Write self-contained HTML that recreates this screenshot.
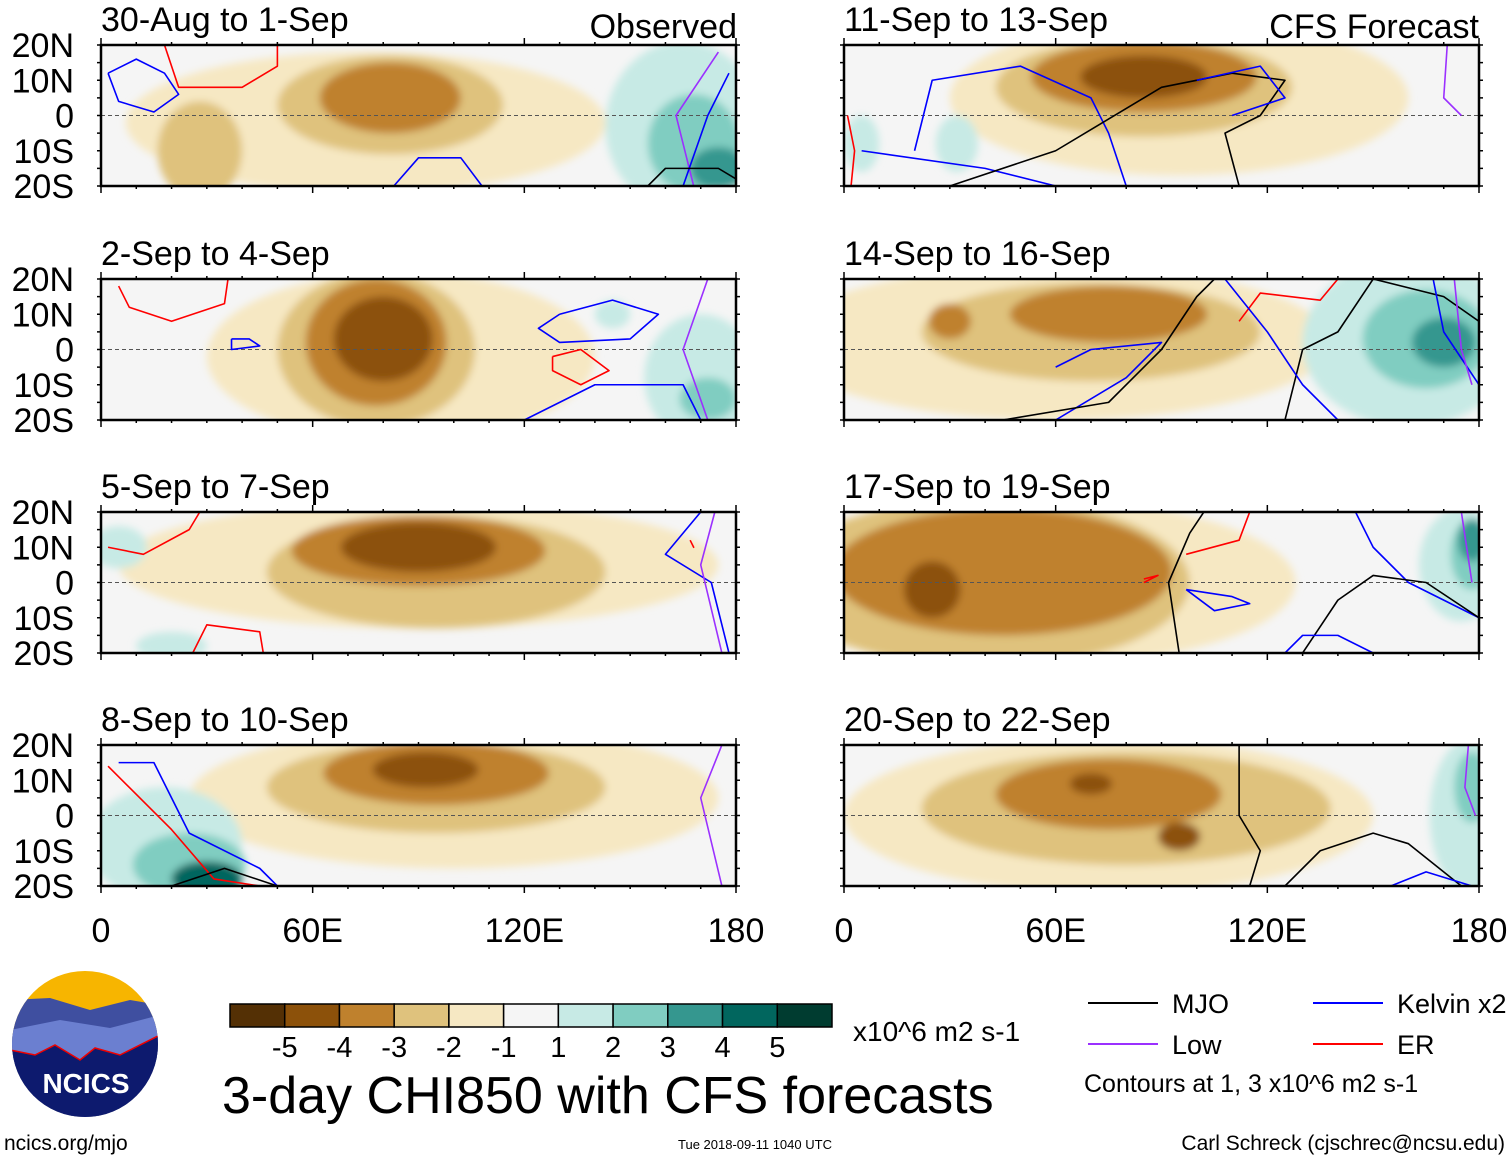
<!DOCTYPE html>
<html><head><meta charset="utf-8">
<style>
body{margin:0;background:#fff;}
svg{display:block;font-family:"Liberation Sans",sans-serif;}
</style></head>
<body>
<svg id="chart" width="1510" height="1159" viewBox="0 0 1510 1159">
<defs>
<filter id="blur" x="-20%" y="-20%" width="140%" height="140%"><feGaussianBlur stdDeviation="4"/></filter>
</defs>
<g id="panels"></g>
<g id="legend"></g>
</svg>
<script>
// ---------- data ----------
const panelTitles = ["30-Aug to 1-Sep","2-Sep to 4-Sep","5-Sep to 7-Sep","8-Sep to 10-Sep","11-Sep to 13-Sep","14-Sep to 16-Sep","17-Sep to 19-Sep","20-Sep to 22-Sep"];
const latTicks = [20,10,0,-10,-20];
const latLabels = ["20N","10N","0","10S","20S"];
const lonTicks = [0,60,120,180];
const lonLabels = ["0","60E","120E","180"];
const levels = [-5,-4,-3,-2,-1,1,2,3,4,5];
const levelColors = ["#543005","#8c510a","#bf812d","#dfc27d","#f6e8c3","#f5f5f5","#c7eae5","#80cdc1","#35978f","#01665e","#003c30"];
// blobs: [lon, lat, rxDeg, ryDeg, level]
const blobs0 = [[75,-2,68,20,-1],[28,-10,12,14,-2],[82,3,32,14,-2],[82,5,20,10,-3],[165,-3,22,24,1],[168,-8,13,14,2],[175,-15,8,6,3]];
const blobs1 = [[85,-2,55,24,-1],[78,0,28,22,-2],[78,2,20,18,-3],[80,3,14,12,-4],[170,-8,16,18,1],[172,-14,8,6,2],[145,10,5,4,1]];
const blobs2 = [[90,5,85,18,-1],[95,3,48,16,-2],[90,9,36,10,-3],[90,10,22,7,-4],[5,10,8,6,1],[20,-18,10,4,1]];
const blobs3 = [[100,5,75,20,-1],[95,8,48,13,-2],[95,12,32,9,-3],[92,13,15,5,-4],[18,-8,22,16,1],[25,-14,16,9,2],[30,-18,10,5,4]];
const blobs4 = [[95,5,65,22,-1],[85,8,42,14,-2],[85,11,32,10,-3],[85,11,18,6,-4],[32,-8,6,8,1],[5,-8,5,8,1]];
const blobs5 = [[60,2,78,22,-1],[70,5,48,14,-2],[75,10,28,8,-3],[30,8,6,5,-3],[160,2,30,24,1],[165,3,18,14,2],[170,2,9,7,3]];
const blobs6 = [[50,0,78,24,-1],[40,0,58,24,-2],[45,3,48,18,-3],[25,-2,8,8,-4],[175,5,12,16,1],[178,8,6,10,2],[178,12,4,6,3]];
const blobs7 = [[75,0,75,22,-1],[80,2,58,16,-2],[75,6,32,10,-3],[70,9,6,3,-4],[95,-6,6,4,-4],[178,0,12,22,1],[178,8,5,10,2]];
const blobSets = [blobs0,blobs1,blobs2,blobs3,blobs4,blobs5,blobs6,blobs7];
// contours: [color, [lon,lat,...]]
const contours0 = [["#0000ff",[2,12,10,16,18,12,22,6,15,1,5,4,2,12]],["#ff0000",[18,20,22,8,40,8,50,14,50,20]],["#0000ff",[83,-20,90,-12,102,-12,108,-20]],["#9b30ff",[168,-20,163,0,175,18]],["#0000ff",[178,12,172,0,165,-20]],["#000000",[155,-20,160,-15,175,-15,180,-18]]];
const contours1 = [["#ff0000",[5,18,8,12,20,8,35,13,36,20]],["#0000ff",[37,3,42,3,45,1,37,0,37,3]],["#0000ff",[130,10,145,14,158,10,150,3,130,2,124,6,130,10]],["#ff0000",[128,-2,136,0,144,-6,136,-10,128,-6,128,-2]],["#0000ff",[120,-20,140,-10,165,-10,170,-20]],["#9b30ff",[172,20,165,0,172,-20]]];
const contours2 = [["#ff0000",[2,10,12,8,25,15,28,20]],["#ff0000",[26,-20,30,-12,45,-14,46,-20]],["#0000ff",[170,20,160,8,173,0,178,-20]],["#9b30ff",[174,20,170,5,176,-20]],["#ff0000",[167,12,168,10,167,12]]];
const contours3 = [["#ff0000",[2,14,8,8,20,-4,32,-18,45,-20]],["#0000ff",[5,15,15,15,25,-5,45,-15,50,-20]],["#000000",[20,-20,35,-15,50,-20]],["#9b30ff",[176,20,170,5,176,-20]]];
const contours4 = [["#0000ff",[20,-10,25,10,50,14,70,5,75,-5,80,-20]],["#0000ff",[5,-10,40,-15,60,-20]],["#000000",[30,-20,60,-10,90,8,110,12,125,10,118,0,108,-5,112,-20]],["#0000ff",[100,10,118,14,125,5,110,0]],["#ff0000",[2,-20,3,-10,1,0]],["#9b30ff",[171,20,170,5,175,0]]];
const contours5 = [["#0000ff",[60,-20,80,-8,90,2,70,0,60,-5]],["#000000",[45,-20,75,-15,90,0,100,15,105,20]],["#ff0000",[112,8,118,16,135,14,140,20]],["#000000",[125,-20,130,0,140,5,150,20,170,15,180,8]],["#0000ff",[108,20,120,5,130,-10,140,-20]],["#0000ff",[167,20,170,5,180,-10]],["#9b30ff",[173,20,175,0,178,-10]]];
const contours6 = [["#000000",[95,-20,92,0,98,14,102,20]],["#ff0000",[97,8,112,12,115,20]],["#0000ff",[97,-2,110,-4,115,-6,105,-8,97,-2]],["#ff0000",[85,1,89,2,85,0]],["#0000ff",[145,20,150,10,160,0,170,-5,180,-10]],["#000000",[130,-20,140,-5,150,2,165,0,180,-10]],["#0000ff",[125,-20,130,-15,140,-15,150,-20]],["#9b30ff",[175,20,178,0]]];
const contours7 = [["#000000",[112,20,112,0,118,-10,115,-20]],["#000000",[125,-20,135,-10,150,-5,160,-8,175,-20]],["#0000ff",[155,-20,165,-16,178,-20]],["#9b30ff",[177,20,176,8,179,0]]];
const contourSets = [contours0,contours1,contours2,contours3,contours4,contours5,contours6,contours7];

// ---------- layout ----------
const NS="http://www.w3.org/2000/svg";
function mk(tag,attrs,parent){const e=document.createElementNS(NS,tag);for(const k in attrs)e.setAttribute(k,attrs[k]);if(parent)parent.appendChild(e);return e;}
const colX=[101,844], panelW=635, rowY=[45,279,512,745], panelH=141;
const root=document.getElementById('panels');
function colorFor(l){const i=levels.indexOf(l);return l<0?levelColors[i]:levelColors[i+1];}

for(let p=0;p<8;p++){
  const x0=colX[p<4?0:1], y0=rowY[p%4];
  const xs=lon=>x0+lon/180*panelW;
  const ys=lat=>y0+(20-lat)/40*panelH;
  const g=mk('g',{},root);
  
  
  const cid='clip'+p;
  const cp=mk('clipPath',{id:cid},g);mk('rect',{x:x0,y:y0,width:panelW,height:panelH},cp);
  const bg=mk('rect',{x:x0,y:y0,width:panelW,height:panelH,fill:'#f5f5f5'},g);
  
  
  const fg=mk('g',{'clip-path':'url(#'+cid+')'},g);
  const bl=mk('g',{filter:'url(#blur)'},fg);
  blobSets[p].forEach(b=>{
    const e=mk('ellipse',{cx:xs(b[0]),cy:ys(b[1]),rx:b[2]/180*panelW,ry:b[3]/40*panelH,fill:colorFor(b[4])},bl);
    
    
  });
  mk('line',{x1:x0,x2:x0+panelW,y1:ys(0),y2:ys(0),stroke:'#555','stroke-dasharray':'4,3','stroke-width':1},fg);
  contourSets[p].forEach(c=>{
    const pts=[];for(let i=0;i<c[1].length;i+=2)pts.push(xs(c[1][i])+','+ys(c[1][i+1]));
    const pl=mk('polyline',{points:pts.join(' '),fill:'none',stroke:c[0],'stroke-width':1.6,'stroke-linejoin':'round'},fg);
    
    
  });
  mk('rect',{x:x0,y:y0,width:panelW,height:panelH,fill:'none',stroke:'#000','stroke-width':2.5},g);
  for(let lon=0;lon<=180;lon+=10){const L=lon%60==0?7:3;
    mk('line',{x1:xs(lon),x2:xs(lon),y1:y0,y2:y0-L,stroke:'#000','stroke-width':1.5},g);
    mk('line',{x1:xs(lon),x2:xs(lon),y1:y0+panelH,y2:y0+panelH+L,stroke:'#000','stroke-width':1.5},g);}
  for(let lat=-20;lat<=20;lat+=5){
    mk('line',{x1:x0,x2:x0-4,y1:ys(lat),y2:ys(lat),stroke:'#000','stroke-width':1.5},g);
    mk('line',{x1:x0+panelW,x2:x0+panelW+4,y1:ys(lat),y2:ys(lat),stroke:'#000','stroke-width':1.5},g);}
  const t=mk('text',{x:x0,y:y0-14,'font-size':34},g);t.textContent=panelTitles[p];
  
  
  if(p<4){latTicks.forEach((lat,i)=>{const tt=mk('text',{x:74,y:ys(lat)+12,'font-size':34,'text-anchor':'end'},g);tt.textContent=latLabels[i];
    
    });}
  if(p%4==3){lonTicks.forEach((lon,i)=>{const tt=mk('text',{x:xs(lon),y:942,'font-size':34,'text-anchor':'middle'},g);tt.textContent=lonLabels[i];
    
    });}
}
function txt(s,a,par,name){const t=mk('text',a,par);t.textContent=s;return t;}
txt('Observed',{x:737,y:38,'font-size':34,'text-anchor':'end'},root,'observed-label');
txt('CFS Forecast',{x:1479,y:38,'font-size':34,'text-anchor':'end'},root,'forecast-label');

// ---------- colorbar & legend ----------
const lg=document.getElementById('legend');
const cbX=230,cbW=602/11;
levelColors.forEach((c,i)=>{const r=mk('rect',{x:cbX+i*cbW,y:1004,width:cbW,height:23,fill:c,stroke:'#000','stroke-width':1.5},lg);
  
  });
levels.forEach((l,i)=>txt(String(l),{x:cbX+(i+1)*cbW,y:1057,'font-size':29,'text-anchor':'middle'},lg,'colorbar-label'));
txt('x10^6 m2 s-1',{x:853,y:1041,'font-size':28},lg,'units-label');
txt('3-day CHI850 with CFS forecasts',{x:222,y:1113,'font-size':52},lg,'main-title');
const legendItems=[["MJO","#000",1088,1003],["Kelvin x2","#0000ff",1313,1003],["Low","#9b30ff",1088,1044],["ER","#ff0000",1313,1044]];
legendItems.forEach(it=>{mk('line',{x1:it[2],x2:it[2]+70,y1:it[3],y2:it[3],stroke:it[1],'stroke-width':2},lg);
  txt(it[0],{x:it[2]+84,y:it[3]+10,'font-size':27},lg,'legend-entry');});
txt('Contours at 1, 3 x10^6 m2 s-1',{x:1084,y:1092,'font-size':25},lg,'contour-note');
txt('Carl Schreck (cjschrec@ncsu.edu)',{x:1505,y:1150,'font-size':21,'text-anchor':'end'},lg,'author-credit');
txt('ncics.org/mjo',{x:4,y:1150,'font-size':21},lg,'site-link');
txt('Tue 2018-09-11 1040 UTC',{x:755,y:1149,'font-size':13,'text-anchor':'middle'},lg,'timestamp');
// logo
const logo=mk('g',{},lg);


const lc=mk('clipPath',{id:'logoclip'},logo);mk('circle',{cx:85,cy:1044,r:73},lc);
const li=mk('g',{'clip-path':'url(#logoclip)'},logo);
mk('rect',{x:10,y:970,width:150,height:150,fill:'#f7b500'},li);
mk('path',{d:'M10 1000 L50 998 L90 1010 L130 1000 L160 1005 L160 1120 L10 1120Z',fill:'#3f4fa0'},li);
mk('path',{d:'M10 1030 L60 1020 L110 1028 L160 1015 L160 1120 L10 1120Z',fill:'#6b7fd0'},li);
mk('path',{d:'M10 1050 L35 1055 L55 1045 L80 1060 L95 1048 L120 1055 L160 1035 L160 1120 L10 1120Z',fill:'#0d1a6e',stroke:'#e00','stroke-width':1.5},li);
txt('NCICS',{x:86,y:1093,'font-size':28,'font-weight':'bold','text-anchor':'middle',fill:'#fff'},logo,'logo-text');
</script>
</body></html>
